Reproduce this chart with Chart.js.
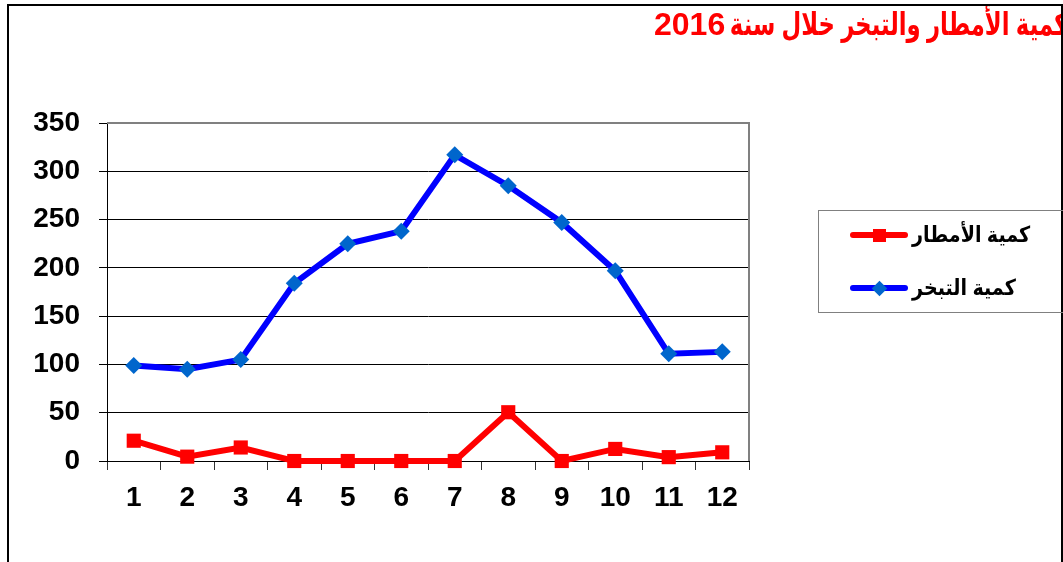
<!DOCTYPE html>
<html>
<head>
<meta charset="utf-8">
<script src="https://cdn.jsdelivr.net/npm/chart.js@4.4.1/dist/chart.umd.min.js"></script>
<style>
  html, body { margin: 0; padding: 0; background: #fff; overflow: hidden; }
  body { width: 1063px; height: 562px; position: relative; font-family: "Liberation Sans", Arial, "DejaVu Sans", sans-serif; }
  #chart { position: absolute; left: 0; top: 0; }
  #frame { position: absolute; left: 7px; top: 4px; width: 1052px; height: 640px; border: 2px solid #000; overflow: hidden; }
  #title { position: absolute; left: 0; right: 0; top: 2px; height: 40px; font-weight: bold; font-size: 32px; line-height: 32px; color: #ff0000; white-space: nowrap; }
  #title .ar { position: absolute; right: -6px; top: 0; display: inline-block; direction: rtl; transform: scaleX(0.71); transform-origin: right center; }
  #title .num { position: absolute; left: 645px; top: 0; }
  #legend { position: absolute; left: 818px; top: 210px; width: 250px; height: 101px; border: 1px solid #808080; }
  .row { position: absolute; left: 31px; height: 30px; display: flex; align-items: center; }
  .sample { position: relative; width: 58px; height: 6px; border-radius: 3px; margin-right: 4px; flex: none; }
  .sample i { position: absolute; left: 50%; top: 50%; }
  .txt { font-weight: bold; font-size: 22px; color: #000; direction: rtl; white-space: nowrap; display: inline-block; transform: scaleX(0.87); transform-origin: left center; }
</style>
</head>
<body>
<canvas id="chart" width="1063" height="562"></canvas>
<div id="frame"><div id="title"><span class="ar">كمية الأمطار والتبخر خلال سنة</span> <span class="num">2016</span></div></div>
<div id="legend">
  <div class="row" style="top:9px">
    <span class="sample" style="background:#ff0000"><i style="width:13px;height:13px;margin:-6.5px 0 0 -6.5px;background:#ff0000"></i></span>
    <span class="txt">كمية الأمطار</span>
  </div>
  <div class="row" style="top:62px">
    <span class="sample" style="background:#0000ff"><i style="width:11px;height:11px;margin:-5.5px 0 0 -5.5px;background:#0066cc;transform:rotate(45deg)"></i></span>
    <span class="txt">كمية التبخر</span>
  </div>
</div>
<script>
// ── DATA ─────────────────────────────────────
const months = ["1", "2", "3", "4", "5", "6", "7", "8", "9", "10", "11", "12"];
const rainLabel = "كمية الأمطار";
const evapLabel = "كمية التبخر";
const rainValues = [21, 4.5, 14, 0, 0, 0, 0, 50.5, 0, 12.5, 4, 9];
const evapValues = [99, 95, 105, 184, 225, 238, 317, 285, 247, 197, 111, 113];
const yMin = 0;
const yMax = 350;
const yStep = 50;

// ── plot area border (gray top + right) ──────
const plotBorder = {
  id: "plotBorder",
  beforeDatasetsDraw(chart) {
    const a = chart.chartArea;
    const ctx = chart.ctx;
    ctx.save();
    ctx.strokeStyle = "#808080";
    ctx.lineWidth = 2;
    ctx.beginPath();
    ctx.moveTo(a.left, a.top);
    ctx.lineTo(a.right, a.top);
    ctx.lineTo(a.right, a.bottom);
    ctx.stroke();
    ctx.restore();
  }
};

const tickFont = { family: "'Liberation Sans', Arial, sans-serif", size: 28, weight: "bold" };

new Chart(document.getElementById("chart"), {
  type: "line",
  data: {
    labels: months,
    datasets: [
      {
        label: rainLabel,
        data: rainValues,
        borderColor: "#ff0000",
        backgroundColor: "#ff0000",
        borderWidth: 6,
        pointStyle: "rect",
        pointRadius: 10,
        pointBackgroundColor: "#ff0000",
        pointBorderColor: "#ff0000",
        pointBorderWidth: 0,
        tension: 0,
        clip: false
      },
      {
        label: evapLabel,
        data: evapValues,
        borderColor: "#0000ff",
        backgroundColor: "#0066cc",
        borderWidth: 6,
        pointStyle: "rectRot",
        pointRadius: 8.5,
        pointBackgroundColor: "#0066cc",
        pointBorderColor: "#0066cc",
        pointBorderWidth: 0,
        tension: 0,
        clip: false
      }
    ]
  },
  options: {
    responsive: false,
    animation: false,
    devicePixelRatio: 1,
    layout: { padding: { left: 0, top: 123, right: 314, bottom: 41 } },
    plugins: {
      legend: { display: false },
      title: { display: false },
      tooltip: { enabled: false }
    },
    scales: {
      x: {
        offset: true,
        afterFit: s => { s.height = 60; },
        grid: { drawOnChartArea: false, drawTicks: true, tickLength: 9, tickColor: "#333", offset: true },
        border: { display: true, color: "#000", width: 1 },
        ticks: { color: "#000", font: tickFont, padding: 11, maxRotation: 0 }
      },
      y: {
        min: yMin,
        max: yMax,
        afterFit: s => { s.width = 107; },
        grid: {
          color: c => (c.tick && c.tick.value === yMax ? "#808080" : "#000"),
          lineWidth: 1,
          tickLength: 8,
          tickColor: "#000"
        },
        border: { display: true, color: "#000", width: 1 },
        ticks: { stepSize: yStep, color: "#000", font: tickFont, padding: 19 }
      }
    }
  },
  plugins: [plotBorder]
});
</script>
</body>
</html>
